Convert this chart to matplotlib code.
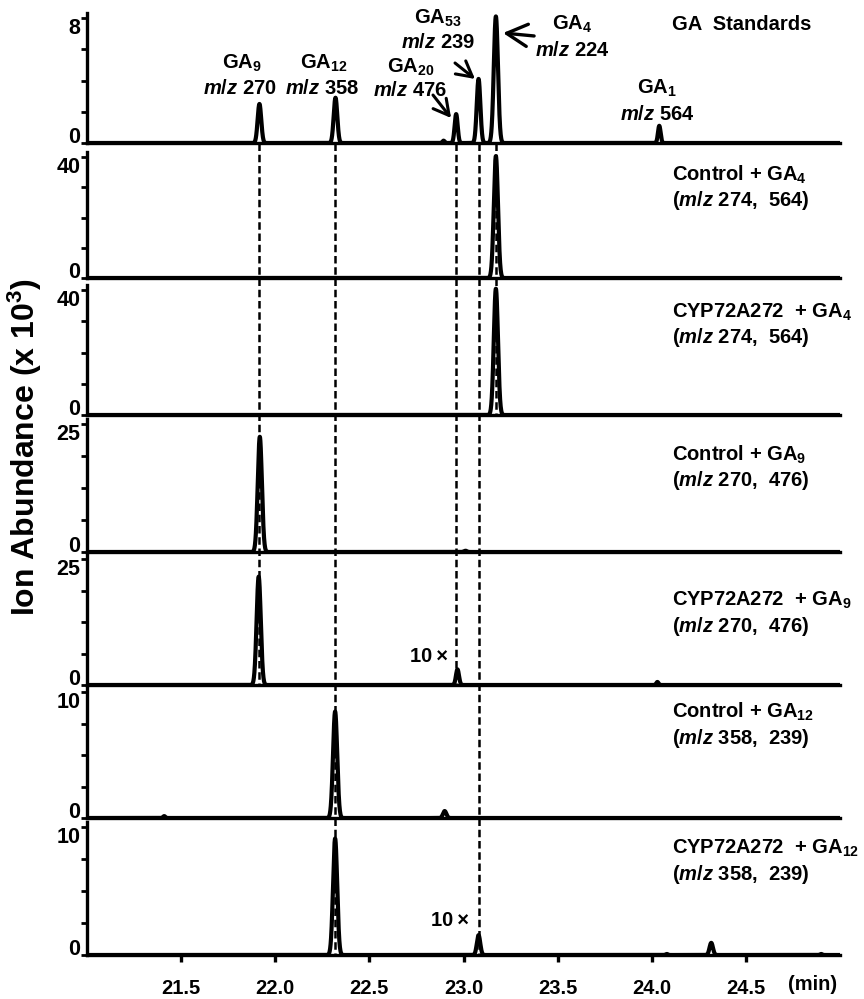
import numpy as np
import matplotlib
matplotlib.use("Agg")
import matplotlib.pyplot as plt
import matplotlib.transforms as mtransforms
from matplotlib.lines import Line2D

plt.rcParams.update({
    "font.family": ["Liberation Sans", "DejaVu Sans"],
    "font.weight": "bold",
    "mathtext.fontset": "custom",
    "mathtext.rm": "Liberation Sans:bold",
    "mathtext.it": "Liberation Sans:italic:bold",
    "mathtext.bf": "Liberation Sans:bold",
    "axes.linewidth": 2.4,
})

# ---------------- data (peak tables) ----------------
panel_ymax = [8, 40, 40, 25, 25, 10, 10]

std_rt = [21.916, 22.320, 22.894, 22.961, 23.080, 23.172, 24.040]
std_height = [2.5, 2.9, 0.15, 1.85, 4.1, 8.1, 1.1]
std_sigma = [0.0095, 0.0095, 0.006, 0.008, 0.0095, 0.011, 0.007]

ctl_ga4_rt = [23.172]
ctl_ga4_height = [40.3]
ctl_ga4_sigma = [0.011]

cyp_ga4_rt = [23.172]
cyp_ga4_height = [40.4]
cyp_ga4_sigma = [0.011]

ctl_ga9_rt = [21.918, 23.010]
ctl_ga9_height = [22.5, 0.25]
ctl_ga9_sigma = [0.011, 0.008]

cyp_ga9_rt = [21.912, 22.968, 24.030]
cyp_ga9_height = [21.5, 3.1, 0.6]
cyp_ga9_sigma = [0.011, 0.008, 0.006]

ctl_ga12_rt = [21.410, 22.318, 22.900]
ctl_ga12_height = [0.15, 8.45, 0.55]
ctl_ga12_sigma = [0.006, 0.011, 0.009]

cyp_ga12_rt = [22.318, 23.080, 24.080, 24.316, 24.900]
cyp_ga12_height = [9.1, 1.55, 0.08, 0.95, 0.08]
cyp_ga12_sigma = [0.011, 0.009, 0.006, 0.009, 0.006]

panel_titles = [
    ("GA  Standards", None),
    ("Control + GA$_{4}$", "($\\mathit{m/z}$ 274,  564)"),
    ("CYP72A272  + GA$_{4}$", "($\\mathit{m/z}$ 274,  564)"),
    ("Control + GA$_{9}$", "($\\mathit{m/z}$ 270,  476)"),
    ("CYP72A272  + GA$_{9}$", "($\\mathit{m/z}$ 270,  476)"),
    ("Control + GA$_{12}$", "($\\mathit{m/z}$ 358,  239)"),
    ("CYP72A272  + GA$_{12}$", "($\\mathit{m/z}$ 358,  239)"),
]

std_names = ["GA$_{9}$", "GA$_{12}$", "GA$_{20}$", "GA$_{53}$", "GA$_{4}$", "GA$_{1}$"]
std_mz = ["270", "358", "476", "239", "224", "564"]

guide_rt = [21.916, 22.320, 22.961, 23.080, 23.172]
guide_last_panel = [4, 6, 4, 6, 2]

x_ticks = [21.5, 22.0, 22.5, 23.0, 23.5, 24.0, 24.5]

panels = [
    (std_rt, std_height, std_sigma),
    (ctl_ga4_rt, ctl_ga4_height, ctl_ga4_sigma),
    (cyp_ga4_rt, cyp_ga4_height, cyp_ga4_sigma),
    (ctl_ga9_rt, ctl_ga9_height, ctl_ga9_sigma),
    (cyp_ga9_rt, cyp_ga9_height, cyp_ga9_sigma),
    (ctl_ga12_rt, ctl_ga12_height, ctl_ga12_sigma),
    (cyp_ga12_rt, cyp_ga12_height, cyp_ga12_sigma),
]

# ---------------- layout ----------------
W, H = 864, 999
fig = plt.figure(figsize=(W / 100, H / 100), dpi=100)

baseline_px = [143, 278, 415, 552, 685, 818, 955]
ticktop_px = [18, 157, 290, 424, 559, 692, 827]
left_px, right_px = 87, 840
XMIN, XMAX = 21.0, 25.0

t = np.linspace(XMIN, XMAX, 8001)
axes = []
for i, (rts, hs, sg) in enumerate(panels):
    hpx = (baseline_px[i] - ticktop_px[i]) * 1.04
    ax = fig.add_axes([left_px / W, 1 - baseline_px[i] / H,
                       (right_px - left_px) / W, hpx / H])
    y = np.zeros_like(t)
    for rt, h, s in zip(rts, hs, sg):
        y += h * np.exp(-0.5 * ((t - rt) / s) ** 2)
    ax.plot(t, y, color="black", lw=3.0, solid_joinstyle="round", zorder=3)
    top = panel_ymax[i]
    ax.set_xlim(XMIN, XMAX)
    ax.set_ylim(0, top * 1.04)
    ax.spines["top"].set_visible(False)
    ax.spines["right"].set_visible(False)
    ticks = np.linspace(0, top, 5)
    ax.set_yticks(ticks)
    ax.set_yticklabels(["0", "", "", "", str(top)])
    ax.tick_params(axis="y", direction="out", length=4, width=2.0,
                   labelsize=15.5, pad=0.8)
    labs = ax.get_yticklabels()
    labs[0].set_verticalalignment("baseline")
    labs[-1].set_verticalalignment("top")
    if i == len(panels) - 1:
        ax.set_xticks(x_ticks)
        ax.set_xticklabels([f"{v:.1f}" for v in x_ticks])
        ax.tick_params(axis="x", direction="out", length=5, width=2.4,
                       labelsize=14.5, pad=12)
    else:
        ax.set_xticks([])
    ax.patch.set_visible(False)
    axes.append(ax)

# dashed guide lines spanning the panels
trans = mtransforms.blended_transform_factory(axes[0].transData, fig.transFigure)
for rt, last in zip(guide_rt, guide_last_panel):
    y0 = 1 - baseline_px[0] / H
    y1 = 1 - baseline_px[last] / H
    ln = Line2D([rt, rt], [y0, y1], transform=trans, color="black",
                lw=1.8, dashes=(3.0, 1.5), zorder=1)
    fig.add_artist(ln)

# right-hand labels
line1_px = [25, 175, 312, 455, 600, 712, 848]
for i, (l1, l2) in enumerate(panel_titles):
    fig.text(672 / W, 1 - line1_px[i] / H, l1, fontsize=14.5, ha="left", va="center")
    if l2:
        fig.text(672 / W, 1 - (line1_px[i] + 26) / H, l2, fontsize=14.5,
                 ha="left", va="center")

# peak labels in the standards panel
name_pos = [(242, 63), (324, 63), (411, 67), (438, 18), (572, 24), (657, 88)]
mz_pos = [(240, 88), (322, 88), (410, 91), (438, 43), (572, 50), (657, 115)]
for nm, mz, (nx, ny), (mx, my) in zip(std_names, std_mz, name_pos, mz_pos):
    fig.text(nx / W, 1 - ny / H, nm, fontsize=14.5, ha="center", va="center")
    fig.text(mx / W, 1 - my / H, "$\\mathit{m/z}$ " + mz, fontsize=14.5,
             ha="center", va="center")

ax0 = axes[0]
ax0.annotate("", xy=(23.210, 7.04), xytext=(23.375, 6.85),
             arrowprops=dict(arrowstyle="->,head_length=1.5,head_width=0.8",
                             lw=2.4, color="black", mutation_scale=10,
                             shrinkA=0, shrinkB=0), annotation_clip=False)
ax0.annotate("", xy=(23.061, 4.10), xytext=(22.955, 5.12),
             arrowprops=dict(arrowstyle="->,head_length=1.1,head_width=0.6",
                             lw=2.2, color="black", mutation_scale=10,
                             shrinkA=0, shrinkB=0), annotation_clip=False)
ax0.annotate("", xy=(22.934, 1.60), xytext=(22.838, 3.07),
             arrowprops=dict(arrowstyle="->,head_length=1.1,head_width=0.6",
                             lw=2.2, color="black", mutation_scale=10,
                             shrinkA=0, shrinkB=0), annotation_clip=False)

# magnification notes
fig.text(429 / W, 1 - 657 / H, "10\u2009\u00d7", fontsize=14.5, ha="center", va="center")
fig.text(450 / W, 1 - 920 / H, "10\u2009\u00d7", fontsize=14.5, ha="center", va="center")

# axis labels
fig.text(25 / W, 1 - 447 / H, "Ion Abundance (x 10$^{3}$)", fontsize=23,
         rotation=90, ha="center", va="center")
fig.text(813 / W, 1 - 985 / H, "(min)", fontsize=14.5, ha="center", va="center")

fig.savefig("out.png", dpi=100)
